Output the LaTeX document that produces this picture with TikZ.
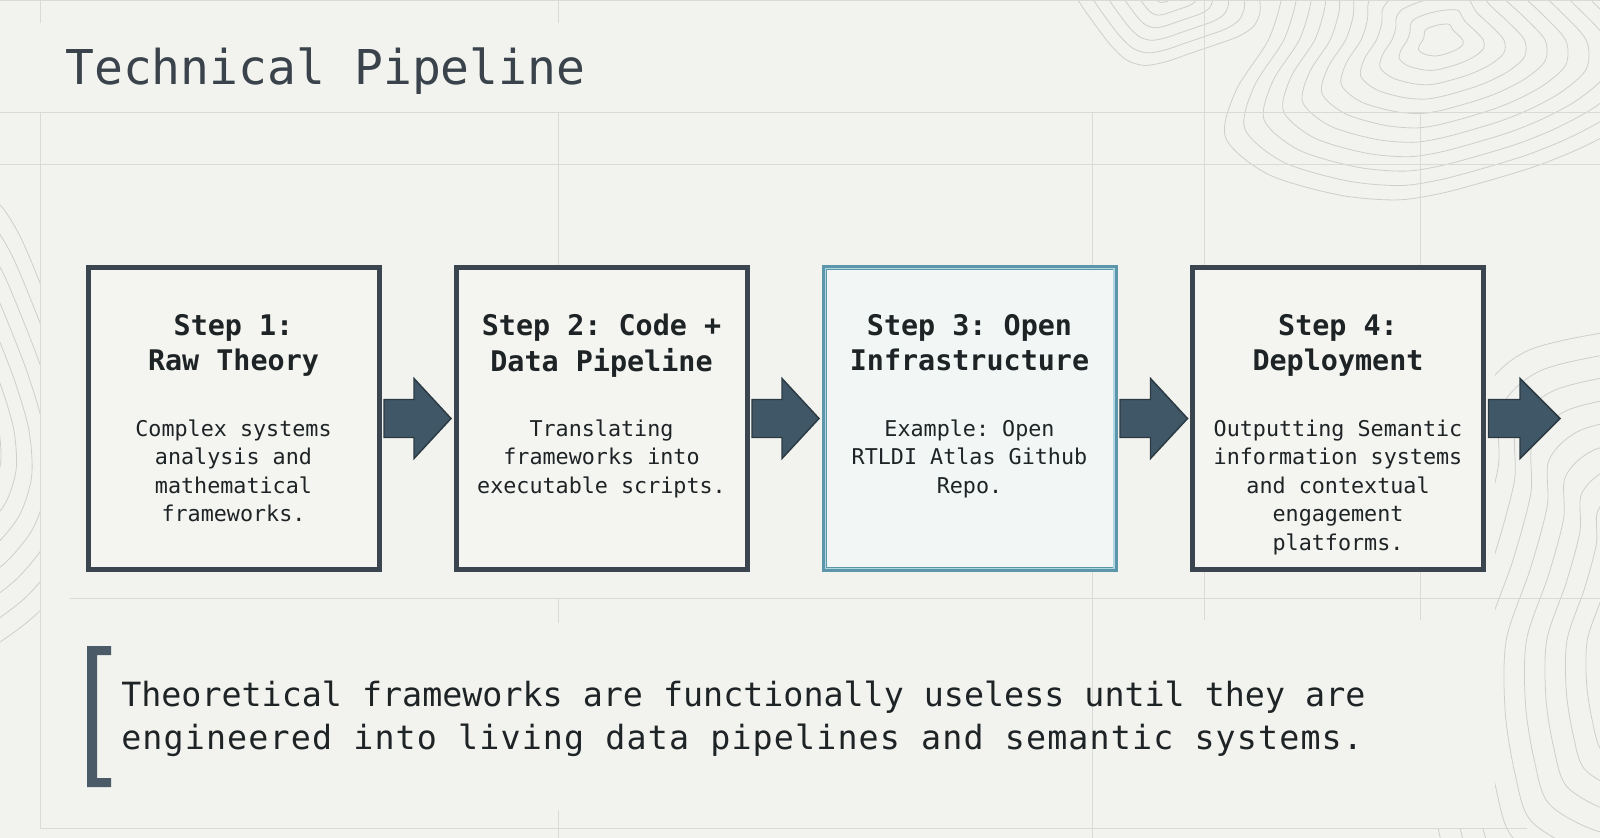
\documentclass[tikz,border=0pt]{standalone}
\usepackage{fontspec}
\setmainfont{DejaVu Sans Mono}
\newfontfamily\quotewide[LetterSpace=3.4]{DejaVu Sans Mono}
\usetikzlibrary{calc}
\frenchspacing
\definecolor{bg}{HTML}{F2F3EE}
\definecolor{boxfill}{HTML}{F4F5F0}
\definecolor{boxfillb}{HTML}{F2F6F4}
\definecolor{boxline}{HTML}{3A4550}
\definecolor{tealline}{HTML}{5B96AB}
\definecolor{teallight}{HTML}{AFD6E2}
\definecolor{arrowfill}{HTML}{405768}
\definecolor{arrowline}{HTML}{2C3A44}
\definecolor{gridc}{HTML}{D9DAD5}
\definecolor{contourc}{HTML}{CDCFCA}
\definecolor{titlec}{HTML}{3A434B}
\definecolor{textc}{HTML}{1E2326}
\definecolor{bracketc}{HTML}{4A5A66}
\begin{document}
\frenchspacing
\begin{tikzpicture}[x=0.75pt,y=-0.75pt,
  stepbox/.style={draw=boxline, line width=3.75pt, fill=boxfill,
    minimum width=218.25pt, minimum height=226.5pt, inner sep=0pt},
  stepboxhl/.style={stepbox, draw=tealline, fill=boxfillb},
  headtext/.style={anchor=north, align=center, inner sep=0pt, text=textc,
    font=\fontsize{21.3}{26.6}\selectfont\bfseries\frenchspacing},
  bodytext/.style={anchor=north, align=center, inner sep=0pt, text=textc,
    font=\fontsize{16.3}{21.4}\selectfont\frenchspacing},
  flowarrow/.style={fill=arrowfill, draw=arrowline, line width=1.1pt, line join=miter},
  gridline/.style={draw=gridc, line width=0.75pt},
  contour/.style={draw=contourc, line width=0.6pt}]
\useasboundingbox (0,0) rectangle (1600,838);
\fill[bg] (0,0) rectangle (1600,838);
% topographic contours
\begin{scope}
\clip (0,0) rectangle (1600,838);
\foreach \r in {20,38,...,210}
  \draw[contour] plot[smooth cycle, samples=24, domain=0:345, variable=\t]
    ({1440+\r*(1+0.18*sin(3*\t+20)+0.08*cos(5*\t))*cos(\t)},
     {40+0.85*\r*(1+0.15*cos(2*\t+50))*sin(\t)});
\foreach \r in {15,30,...,90}
  \draw[contour] plot[smooth cycle, samples=24, domain=0:345, variable=\t]
    ({1165+\r*(1+0.15*sin(2*\t+10))*cos(\t)},
     {-10+0.8*\r*(1+0.12*cos(3*\t))*sin(\t)});
\foreach \r in {100,122,...,320}
  \draw[contour] plot[smooth cycle, samples=24, domain=0:345, variable=\t]
    ({1720+\r*(1+0.16*sin(3*\t+60)+0.06*cos(6*\t))*cos(\t)},
     {640+1.1*\r*(1+0.1*cos(2*\t))*sin(\t)});
\foreach \r in {50,64,...,150}
  \draw[contour] plot[smooth cycle, samples=24, domain=0:345, variable=\t]
    ({-70+\r*(1+0.15*sin(3*\t+30))*cos(\t)},
     {430+1.8*\r*(1+0.1*cos(2*\t+20))*sin(\t)});
\end{scope}
\fill[bg] (40,210) rectangle (1495,828);
% faint grid
\draw[gridline] (0,1) -- (1600,1);
\draw[gridline] (0,113) -- (1600,113);
\draw[gridline] (0,165) -- (1600,165);
\draw[gridline] (70,598) -- (1600,598);
\draw[gridline] (40,828) -- (1527,828);
\draw[gridline] (40,0) -- (40,23);
\draw[gridline] (40,113) -- (40,828);
\draw[gridline] (558,0) -- (558,23);
\draw[gridline] (558,113) -- (558,265);
\draw[gridline] (558,598) -- (558,623);
\draw[gridline] (558,810) -- (558,838);
\draw[gridline] (1092,113) -- (1092,838);
\draw[gridline] (1204,0) -- (1204,265);
\draw[gridline] (1204,572) -- (1204,620);
\draw[gridline] (1420,113) -- (1420,265);
\draw[gridline] (1420,572) -- (1420,620);
% title
\node[anchor=north west, inner sep=0pt, text=titlec,
  font=\fontsize{36}{40}\selectfont] (title) at (65,47.5) {Technical Pipeline};
% boxes
\node[stepbox]   (b1) at (233.5,418.5) {};
\node[stepbox]   (b2) at (601.5,418.5) {};
\node[stepboxhl] (b3) at (969.5,418.5) {};
\node[stepbox]   (b4) at (1338,418.5) {};
\draw[teallight, line width=0.9pt]
  ($(b3.north west)+(3.6,3.6)$) rectangle ($(b3.south east)+(-3.6,-3.6)$);
% texts
\node[headtext] (h1) at (233.5,314) {Step 1:\\Raw Theory};
\node[bodytext] (t1) at (233.5,419.5) {Complex systems\\analysis and\\mathematical\\frameworks.};
\node[headtext] (h2) at (601.5,314) {Step 2: Code +\\Data Pipeline};
\node[bodytext] (t2) at (601.5,419.5) {Translating\\frameworks into\\executable scripts.};
\node[headtext] (h3) at (969.5,314) {Step 3: Open\\Infrastructure};
\node[bodytext] (t3) at (969.5,419.5) {Example: Open\\RTLDI Atlas Github\\Repo.};
\node[headtext] (h4) at (1338,314) {Step 4:\\Deployment};
\node[bodytext] (t4) at (1338,419.5) {Outputting Semantic\\information systems\\and contextual\\engagement\\platforms.};
% arrows
\foreach \a/\b in {b1/b2, b2/b3, b3/b4}
  \draw[flowarrow] ($(\a.east)+(2.5,-19)$) -- ($(\b.west)+(-39.5,-19)$)
    -- ($(\b.west)+(-39.5,-40)$) -- ($(\b.west)+(-2.5,0)$)
    -- ($(\b.west)+(-39.5,40)$) -- ($(\b.west)+(-39.5,19)$)
    -- ($(\a.east)+(2.5,19)$) -- cycle;
\coordinate (out) at (1560,418.5);
\draw[flowarrow] ($(b4.east)+(2.5,-19)$) -- ($(out)+(-40,-19)$)
  -- ($(out)+(-40,-40)$) -- (out) -- ($(out)+(-40,40)$)
  -- ($(out)+(-40,19)$) -- ($(b4.east)+(2.5,19)$) -- cycle;
% quote with bracket
\fill[bracketc] (87,646) -- (111,646) -- (111,655) -- (97,655) -- (97,778)
  -- (111,778) -- (111,787) -- (87,787) -- cycle;
\node[anchor=north west, inner sep=0pt, align=left, text=textc,
  font=\fontsize{25}{32.3}\selectfont\frenchspacing] (quote) at (121,681)
  {Theoretical frameworks are functionally useless until they are\\{\quotewide engineered into living data pipelines and semantic systems.}};
\end{tikzpicture}
\end{document}
